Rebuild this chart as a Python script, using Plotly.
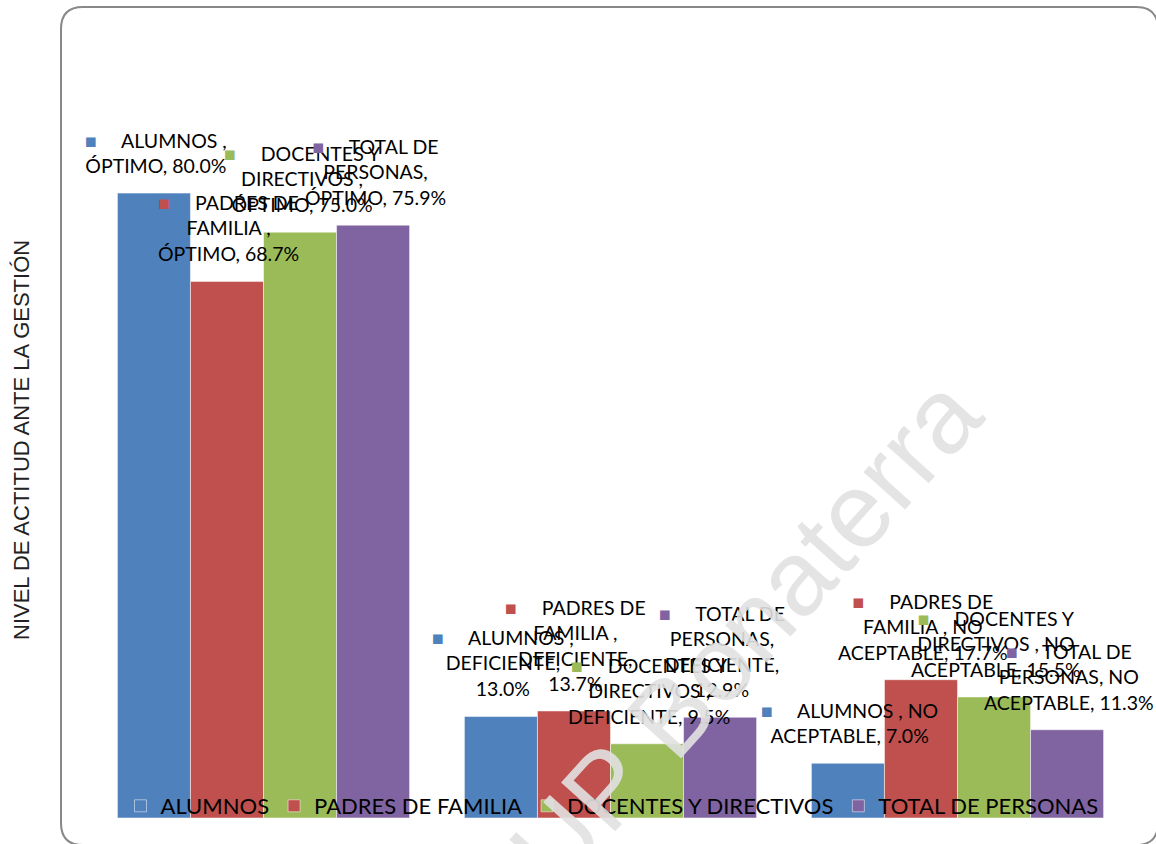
import plotly.graph_objects as go

# data
categorias = ["ÓPTIMO", "DEFICIENTE", "NO ACEPTABLE"]
series = ["ALUMNOS", "PADRES DE FAMILIA", "DOCENTES Y DIRECTIVOS", "TOTAL DE PERSONAS"]
alumnos = [80.0, 13.0, 7.0]
padres = [68.7, 13.7, 17.7]
docentes = [75.0, 9.5, 15.5]
total = [75.9, 12.9, 11.3]
valores = [alumnos, padres, docentes, total]

colores = ["#4F81BD", "#C0504D", "#9BBB59", "#8064A2"]

# etiquetas partidas como en el original
etiquetas = [
    ["ALUMNOS ,<br>ÓPTIMO, {v}%", "ALUMNOS ,<br>DEFICIENTE,<br>{v}%", "ALUMNOS , NO<br>ACEPTABLE, {v}%"],
    ["PADRES DE<br>FAMILIA ,<br>ÓPTIMO, {v}%", "PADRES DE<br>FAMILIA ,<br>DEFICIENTE,<br>{v}%",
     "PADRES DE<br>FAMILIA , NO<br>ACEPTABLE, {v}%"],
    ["DOCENTES Y<br>DIRECTIVOS ,<br>ÓPTIMO, {v}%", "DOCENTES Y<br>DIRECTIVOS ,<br>DEFICIENTE, {v}%",
     "DOCENTES Y<br>DIRECTIVOS , NO<br>ACEPTABLE, {v}%"],
    ["TOTAL DE<br>PERSONAS,<br>ÓPTIMO, {v}%", "TOTAL DE<br>PERSONAS,<br>DEFICIENTE,<br>{v}%",
     "TOTAL DE<br>PERSONAS, NO<br>ACEPTABLE, {v}%"],
]

W, H = 1156, 844
L, R, T, B = 90, 25, 115, 26
BARGAP = 0.158
PW = W - L - R
BAR_W = PW / len(categorias) * (1 - BARGAP) / len(series)


def px_x(x):
    return (x - L) / PW


def px_y(y):
    return (H - B - y) / (H - T - B)


fig = go.Figure()
for nombre, vals, col in zip(series, valores, colores):
    fig.add_trace(go.Bar(x=categorias, y=vals, name=nombre, marker_color=col,
                         marker_line=dict(color="rgba(255,255,255,0.5)", width=1)))

# etiquetas de datos encima de todas las barras
nb = "\u00a0"
for i, (vals, col, labs) in enumerate(zip(valores, colores, etiquetas)):
    for cat, v, lab in zip(categorias, vals, labs):
        txt = "<span style='color:%s'>■</span>%s" % (col, nb * 5) + lab.format(v="%.1f" % v)
        fig.add_annotation(x=cat, y=v, xref="x", yref="y", text=txt, showarrow=False,
                           xanchor="center", yanchor="bottom",
                           xshift=(i - 1.5) * BAR_W + 2, yshift=14,
                           font=dict(family="Lato", size=19.5, color="black"))

fig.update_layout(
    width=W, height=H, barmode="group", bargap=BARGAP, bargroupgap=0,
    paper_bgcolor="white", plot_bgcolor="white",
    margin=dict(l=L, r=R, t=T, b=B, autoexpand=False),
    font=dict(family="Lato", color="black"),
    showlegend=True,
    legend=dict(orientation="h", x=px_x(612), xref="paper", xanchor="center",
                y=px_y(806), yanchor="middle", bgcolor="rgba(0,0,0,0)",
                font=dict(family="Lato", size=22), itemwidth=30, traceorder="normal"),
)
fig.update_xaxes(range=[-0.5, len(categorias) - 0.5], showticklabels=False, showgrid=False,
                 zeroline=False, showline=False, ticks="")
fig.update_yaxes(range=[0, 90], showticklabels=False, showgrid=False, zeroline=False,
                 showline=False, ticks="")

# titulo eje y
fig.add_annotation(text="NIVEL DE ACTITUD ANTE LA GESTIÓN", textangle=-90,
                   xref="paper", yref="paper", x=px_x(21), y=px_y(440),
                   xanchor="center", yanchor="middle",
                   showarrow=False, font=dict(family="Liberation Sans", size=22, color="#222"))

# marca de agua
fig.add_annotation(text="UP Bonaterra", textangle=-48,
                   xref="paper", yref="paper", x=px_x(745), y=px_y(632),
                   xanchor="center", yanchor="middle",
                   showarrow=False, font=dict(family="Liberation Sans", size=106,
                                              color="rgba(225,225,225,0.9)"))

# marco redondeado
x0, x1, y0, y1, r = px_x(61), px_x(1158), px_y(7), px_y(845), 22
rx = r / PW
ry = r / (H - T - B)
path = (f"M {x0 + rx},{y0} L {x1 - rx},{y0} Q {x1},{y0} {x1},{y0 - ry} "
        f"L {x1},{y1 + ry} Q {x1},{y1} {x1 - rx},{y1} L {x0 + rx},{y1} "
        f"Q {x0},{y1} {x0},{y1 + ry} L {x0},{y0 - ry} Q {x0},{y0} {x0 + rx},{y0} Z")
fig.add_shape(type="path", path=path, xref="paper", yref="paper",
              line=dict(color="#888", width=2), layer="below")

fig.write_html("out.html", config={"displayModeBar": False},
               post_script="document.body.style.margin='0';")
